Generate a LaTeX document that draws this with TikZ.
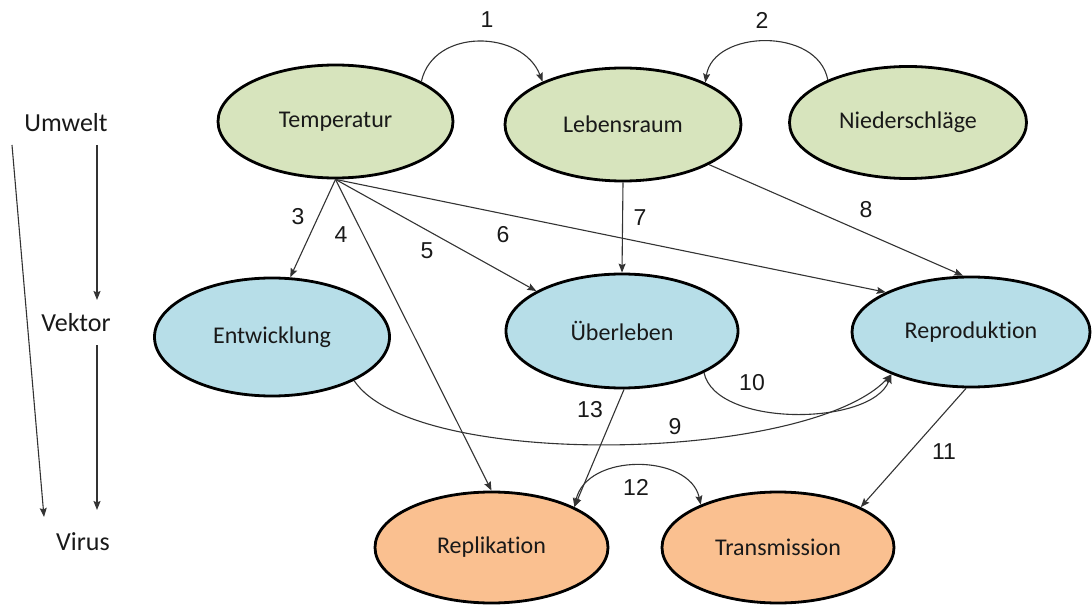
\documentclass[tikz,border=0pt]{standalone}
\usepackage{fontspec}
\setmainfont{Carlito}[Ligatures=NoCommon]
\newfontfamily\numfont{Liberation Sans}
\usetikzlibrary{shapes.geometric,arrows.meta}
\definecolor{envgreen}{RGB}{215,228,189}
\definecolor{vecblue}{RGB}{183,222,232}
\definecolor{virorange}{RGB}{250,192,144}
\tikzset{
  oval/.style={ellipse,draw=black,line width=2.8pt,inner sep=0pt,font=\fontsize{24}{27}\selectfont,text=black!90},
  lvl/.style={font=\fontsize{26}{30}\selectfont,text=black!90,inner sep=0pt},
  num/.style={font=\numfont\fontsize{23}{26}\selectfont,text=black!90,inner sep=0pt},
  conn/.style={line width=1.1pt,draw=black!80,-{Stealth[length=9pt,width=7pt,inset=1.5pt]}},
  bconn/.style={line width=1.1pt,draw=black!80,{Stealth[length=9pt,width=7pt,inset=1.5pt]}-{Stealth[length=9pt,width=7pt,inset=1.5pt]}}
}
\begin{document}
\begin{tikzpicture}[x=1pt,y=1pt]
\useasboundingbox (0,0) rectangle (1092,606);
% ellipses
\node[oval,fill=envgreen,minimum width=235pt,minimum height=113pt] (T) at (335.5,484.5) {Temperatur};
\node[oval,fill=envgreen,minimum width=236pt,minimum height=113pt] (L) at (623,481.5) {Lebensraum};
\node[oval,fill=envgreen,minimum width=237pt,minimum height=112pt] (N) at (908,483.5) {Niederschläge};
\node[oval,fill=vecblue,minimum width=235pt,minimum height=118pt] (E) at (272,269) {Entwicklung};
\node[oval,fill=vecblue,minimum width=232pt,minimum height=114pt] (U) at (622,275) {Überleben};
\node[oval,fill=vecblue,minimum width=238pt,minimum height=110pt] (R) at (971,274) {Reproduktion};
\node[oval,fill=virorange,minimum width=233pt,minimum height=111pt] (Rep) at (491.5,58.5) {Replikation};
\node[oval,fill=virorange,minimum width=232pt,minimum height=111pt] (Tr) at (778,58.5) {Transmission};
% level labels
\node[lvl] (umw) at (66,483) {Umwelt};
\node[lvl] (vek) at (76,283) {Vektor};
\node[lvl] (vir) at (83,64) {Virus};
\coordinate (a1) at (97,461);
\coordinate (a2) at (97,306);
\coordinate (b1) at (97,261);
\coordinate (b2) at (97,96);
\coordinate (c1) at (12,461);
\coordinate (c2) at (44,89);
\draw[conn] (a1) -- (a2);
\draw[conn] (b1) -- (b2);
\draw[conn] (c1) -- (c2);
% connectors
\draw[conn] (T.25) .. controls +(12,54) and +(-20,52) .. (L.152);
\draw[conn] (N.152) .. controls +(-10,53) and +(8,53) .. (L.27);
\draw[conn] (T.south) -- (E.73);
\draw[conn] (T.south) -- (Rep.north);
\draw[conn] (T.south) -- (U.155);
\draw[conn] (T.south) -- (R.155);
\draw[conn] (L.south) -- (U.north);
\draw[conn] (L.-25) -- (R.98);
\draw[conn] (E.-28) .. controls +(60,-90) and +(-84,-88) .. (R.208);
\draw[conn] (U.-27) .. controls +(12,-55) and +(-20,-52) .. (R.208);
\draw[conn] (R.-95) -- (Tr.26);
\draw[bconn] (Rep.26) .. controls +(12,55) and +(-11,51) .. (Tr.151);
\draw[conn] (U.-88) -- (Rep.26);
% numbers
\node[num] (n1) at (487,586) {1};
\node[num] (n2) at (762,586) {2};
\node[num] (n3) at (298,389) {3};
\node[num] (n4) at (341,371) {4};
\node[num] (n5) at (427,355) {5};
\node[num] (n6) at (503,371) {6};
\node[num] (n7) at (640,388) {7};
\node[num] (n8) at (866,396) {8};
\node[num] (n9) at (675,179) {9};
\node[num] (n10) at (752,223) {10};
\node[num] (n11) at (944,154) {11};
\node[num] (n12) at (636,119) {12};
\node[num] (n13) at (590,196) {13};
\end{tikzpicture}
\end{document}
